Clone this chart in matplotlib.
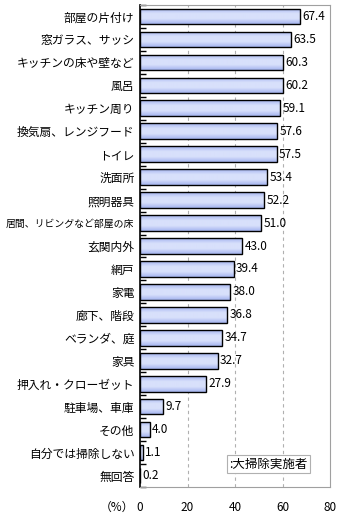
import numpy as np
import matplotlib
matplotlib.use('Agg')
import matplotlib.pyplot as plt
from matplotlib.colors import LinearSegmentedColormap

plt.rcParams['font.family'] = ['Noto Sans CJK JP', 'DejaVu Sans']

labels = ['部屋の片付け', '窓ガラス、サッシ', 'キッチンの床や壁など', '風呂', 'キッチン周り',
          '換気扇、レンジフード', 'トイレ', '洗面所', '照明器具', '居間、リビングなど部屋の床',
          '玄関内外', '網戸', '家電', '廊下、階段', 'ベランダ、庭', '家具',
          '押入れ・クローゼット', '駐車場、車庫', 'その他', '自分では掃除しない', '無回答']
values = [67.4, 63.5, 60.3, 60.2, 59.1, 57.6, 57.5, 53.4, 52.2, 51.0,
          43.0, 39.4, 38.0, 36.8, 34.7, 32.7, 27.9, 9.7, 4.0, 1.1, 0.2]
xticks = [0, 20, 40, 60, 80]

fig = plt.figure(figsize=(3.4, 5.15), dpi=100)
ax = fig.add_axes([140 / 340, 28 / 515, 190 / 340, 482 / 515])

n = len(labels)
y = np.arange(n)
bars = ax.barh(y, values, height=0.68, color='none', edgecolor='black', linewidth=1.0, zorder=3)

# gradient fill inside each bar
cmap = LinearSegmentedColormap.from_list('g', ['#a4b4f0', '#d8e0fb', '#d8e0fb', '#a4b4f0'])
grad = np.linspace(0, 1, 64).reshape(-1, 1)
for b in bars:
    x0, y0 = b.get_x(), b.get_y()
    w, h = b.get_width(), b.get_height()
    im = ax.imshow(grad, cmap=cmap, aspect='auto', extent=(x0, x0 + w, y0 + h, y0),
                   zorder=2, interpolation='bilinear')
    im.set_clip_path(b)

for yi, v in zip(y, values):
    ax.text(v + 1.0, yi, '%.1f' % v, va='center', ha='left', fontsize=8.5)

ax.set_xlim(0, 80)
ax.set_ylim(n - 0.5, -0.5)
ax.set_xticks(xticks)
ax.set_xticklabels([str(t) for t in xticks], fontsize=8.5)
ax.tick_params(axis='x', length=0, pad=10)
ax.set_yticks(y)
ax.set_yticklabels(labels, fontsize=8.5)
for t in ax.get_yticklabels():
    if len(t.get_text()) > 11:
        t.set_fontsize(7.1)
ax.tick_params(axis='y', length=0, pad=4)
ax.set_yticks(np.arange(n + 1) - 0.5, minor=True)
ax.tick_params(axis='y', which='minor', length=4, direction='in', width=1)

for gx in [20, 40, 60]:
    ax.axvline(gx, color='#b0b0b0', linestyle=(0, (3, 3)), linewidth=0.8, zorder=1)

for s in ['top', 'right', 'bottom']:
    ax.spines[s].set_color('#a0a0a0')
ax.spines['left'].set_color('black')
ax.spines['left'].set_linewidth(1.2)

fig.text(100 / 340, 1 - 507 / 515, '（%）', fontsize=8.5, va='center', ha='left')
fig.text(229 / 340, 1 - 464 / 515, ':大掃除実施者', fontsize=9, va='center', ha='left',
         bbox=dict(boxstyle='square,pad=0.2', facecolor='white', edgecolor='#b0b0b0', linewidth=0.8))

fig.savefig('out.png', dpi=100)
